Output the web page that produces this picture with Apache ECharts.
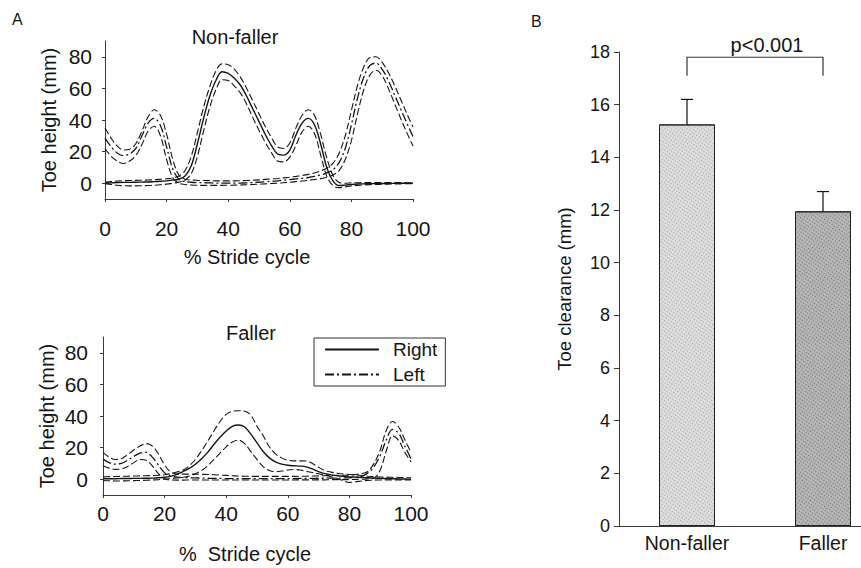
<!DOCTYPE html>
<html><head><meta charset="utf-8">
<script src="https://cdn.jsdelivr.net/npm/echarts@6/dist/echarts.min.js"></script>
<style>html,body{margin:0;padding:0;background:#fff}#c{width:861px;height:568px}</style>
</head><body><div id="c"></div>
<script>
// ---- data ----
const STRIDE = [0,2,4,6,8,10,12,14,16,18,20,22,24,26,28,30,32,34,36,38,40,42,44,46,48,50,52,54,56,58,60,62,64,66,68,70,72,74,76,78,80,82,84,86,88,90,92,94,96,98,100];

const NF_RIGHT_MEAN = [0,0.2,0.4,0.5,0.5,0.6,0.7,0.8,1.0,1.2,1.5,2,2.5,4.5,11,25,41,55,65,70.5,69.5,66.5,62,55,47,39,31,24,18.5,17.8,21,30.5,38,41,37,25,10,1.5,-1.5,-1.2,-0.8,-0.5,-0.4,-0.3,-0.2,-0.2,-0.1,-0.1,0,0,0];
const NF_RIGHT_UP   = [0.5,1.0,1.4,1.6,1.7,1.8,1.9,2.0,2.2,2.5,2.8,3.3,4.5,8,17,32,48,61,71,75.5,75,72,67,60,52,44,36,29,23,22,25.5,35,43,46.5,43,31,16,5,0.5,0,0.2,0.3,0.4,0.4,0.4,0.4,0.4,0.4,0.4,0.3,0.3];
const NF_RIGHT_LO   = [-0.3,-0.8,-1.3,-1.6,-1.7,-1.7,-1.6,-1.5,-1.3,-1.0,-0.6,0,0.7,2,6,17,33,48,59,65.5,65,61.5,57,50,41.5,33.5,26,19.5,14,13.5,16.5,24,32.5,36,31.5,18,4.5,-1.5,-2.8,-2.3,-1.8,-1.4,-1.1,-0.9,-0.8,-0.7,-0.6,-0.5,-0.4,-0.3,-0.3];
const NF_LEFT_MEAN  = [28.5,23,19,17.5,18.5,22,30,38,41,36.5,23,9,2.5,1,0.6,0.4,0.3,0.2,0.1,0,0,0,0.1,0.2,0.4,0.6,0.9,1.2,1.5,1.9,2.3,2.7,3.1,3.6,4.3,5.2,6.5,8.5,13,22,37,54,67,74.5,76,72,65,56,47,38,29.5];
const NF_LEFT_UP    = [35,28.5,23.5,21,21.5,25,33,42,46.5,43,31,15,5,2.5,2,1.8,1.7,1.6,1.5,1.5,1.5,1.5,1.6,1.7,1.9,2.1,2.4,2.7,3.0,3.4,3.8,4.3,4.9,5.6,6.5,7.8,9.5,12.5,19,30,46,62,73.5,79.5,80,76.5,70,62,53,44,35.5];
const NF_LEFT_LO    = [22,17,14,12.5,14,17.5,24.5,33,36,30,15,3.5,0,-0.8,-1.1,-1.3,-1.4,-1.4,-1.4,-1.4,-1.3,-1.2,-1.1,-1.0,-0.8,-0.6,-0.4,-0.2,0,0.3,0.6,1.0,1.4,1.8,2.3,2.9,3.8,5.2,8,15,27,44,59,68.5,71.5,68,60,50.5,41,32,23.5];

const F_RIGHT_MEAN = [0.3,0.3,0.3,0.4,0.4,0.5,0.5,0.6,0.7,0.9,1.2,1.8,3,4.8,6.8,9.5,13,17,22,26.5,30.5,33.5,34.3,33,28.5,23,17.5,13.5,11,9.5,8.8,8.5,8.3,7.8,6.5,4.8,3.5,2.7,2.2,1.8,1.5,1.3,1.1,0.9,0.7,0.5,0.4,0.3,0.2,0.1,0];
const F_RIGHT_UP   = [1.5,1.6,1.7,1.8,1.9,2.0,2.1,2.2,2.3,2.5,2.8,3.5,4.5,5.8,8.5,12.5,18,24,30.5,36.5,41,43,43.3,43,40.5,33.5,27.5,20.5,16,13.5,12,11.6,11.6,11.5,10,7.5,5.5,4.5,3.8,3.3,3.0,2.7,2.3,1.9,1.6,1.4,1.3,1.2,1.1,1.0,0.9];
const F_RIGHT_LO   = [-0.8,-1.0,-1.1,-1.1,-1.0,-0.9,-0.8,-0.7,-0.5,-0.3,0,0.4,0.8,1.2,2,3.5,5.5,8.5,12.5,16.5,20.5,23.5,24.7,22.5,17.5,12.5,8,5.5,4.8,5.2,5.8,6.1,5.8,5,4.2,3.4,2.6,1.6,0.4,-1,-2,-1.6,-1.1,-0.8,-0.6,-0.5,-0.4,-0.4,-0.4,-0.4,-0.4];
const F_LEFT_MEAN  = [12.7,10.5,9.5,10,12,14.5,16.5,17,14,9,4,2,1.3,1.0,0.9,0.8,0.7,0.6,0.5,0.5,0.4,0.4,0.4,0.4,0.4,0.4,0.4,0.4,0.4,0.4,0.4,0.4,0.5,0.5,0.5,0.6,0.6,0.7,0.7,0.8,0.9,1.1,1.8,4,8,15,25,31.5,29,21,13];
const F_LEFT_UP    = [17,14,12.5,13,15.5,18.5,21,22.5,21,16,9,4.5,3.3,3.2,3.2,3.2,3.1,3.0,2.8,2.6,2.4,2.2,2.0,1.9,1.8,1.8,1.8,1.8,1.8,1.8,1.8,1.8,1.9,1.9,2.0,2.1,2.2,2.3,2.4,2.5,2.6,3.0,3.5,5,10,18.5,31,36.5,33,25,17];
const F_LEFT_LO    = [8.5,7,6.2,6.5,8,10.5,12.5,12,8.5,3.5,0.3,-0.5,-0.6,-0.6,-0.5,-0.5,-0.5,-0.5,-0.5,-0.5,-0.5,-0.5,-0.5,-0.5,-0.5,-0.5,-0.5,-0.5,-0.5,-0.5,-0.5,-0.5,-0.4,-0.4,-0.4,-0.4,-0.4,-0.3,-0.3,-0.3,-0.2,-0.1,0,0.2,0.8,5.7,18,27.5,24.5,17,11];

const HEIGHT_TICKS = [0,20,40,60,80];
const GROUPS = ['Non-faller','Faller'];
const CLEARANCE = [15.25, 11.95];
const ERR_LOW = [14.3, 11.25];
const ERR_HIGH = [16.2, 12.7];
const BRACKET = [17.8, 17.1];
const P_TEXT = 'p<0.001';

// ---- chart ----
const FONT = 'Liberation Sans, Arial, Helvetica, sans-serif';
const INK = '#151515';
const AX = '#3a3a3a';
const chart = echarts.init(document.getElementById('c'), null, {renderer:'svg'});

function pairs(v){ return STRIDE.map((x,i)=>[x, v[i]]); }
function ln(name, gi, vals, type, width){
  return {type:'line', name, xAxisIndex:gi, yAxisIndex:gi, data:pairs(vals), smooth:0.35,
    symbol:'none', silent:true, lineStyle:{color:INK, width, type}, itemStyle:{color:INK}};
}
const DASH = [7,3];
const DASHDOT = [9,3,2,3];

function lineXAxis(gi, name, margin, pad){
  return {gridIndex:gi, type:'value', min:0, max:100, interval:20,
    axisLine:{show:true, onZero:false, lineStyle:{color:AX, width:1}},
    axisTick:{show:true, length:3, lineStyle:{color:AX}},
    axisLabel:{fontSize:21, margin, color:INK, fontFamily:FONT},
    splitLine:{show:false},
    name, nameLocation:'middle', nameGap: pad, 
    nameTextStyle:{fontSize:20, color:INK, fontFamily:FONT, padding:[0,24,0,0]}};
}
function lineYAxis(gi, margin){
  return {gridIndex:gi, type:'value', min:-10, max:90,
    axisLine:{show:true, onZero:false, lineStyle:{color:AX, width:1}},
    axisTick:{show:true, length:3, customValues:HEIGHT_TICKS, lineStyle:{color:AX}},
    axisLabel:{fontSize:21, margin, color:INK, fontFamily:FONT, customValues:HEIGHT_TICKS},
    splitLine:{show:false},
    name:'Toe height (mm)', nameLocation:'middle', nameGap:46,
    nameTextStyle:{fontSize:20, color:INK, fontFamily:FONT}};
}

const option = {
  animation:false,
  backgroundColor:'#fff',
  textStyle:{fontFamily:FONT},
  grid:[
    {left:105, top:41, width:308, height:158, outerBoundsMode:'none'},
    {left:103, top:337, width:308, height:158, outerBoundsMode:'none'},
    {left:619, top:52, width:272, height:474, outerBoundsMode:'none'}
  ],
  xAxis:[
    lineXAxis(0, '% Stride cycle', 19, 48),
    lineXAxis(1, '%  Stride cycle', 8, 49),
    {gridIndex:2, type:'category', data:GROUPS,
      axisLine:{lineStyle:{color:AX, width:1}},
      axisTick:{alignWithLabel:true, length:4, lineStyle:{color:AX}},
      axisLabel:{fontSize:19.5, margin:7, color:INK, fontFamily:FONT}}
  ],
  yAxis:[
    lineYAxis(0, 13),
    lineYAxis(1, 15),
    {gridIndex:2, type:'value', min:0, max:18, interval:2,
      axisLine:{show:true, lineStyle:{color:AX, width:1}},
      axisTick:{show:true, length:5, lineStyle:{color:AX}},
      axisLabel:{fontSize:18, margin:9, color:INK, fontFamily:FONT},
      splitLine:{show:false},
      name:'Toe clearance (mm)', nameLocation:'middle', nameGap:45,
      nameTextStyle:{fontSize:18.5, color:INK, fontFamily:FONT}}
  ],
  legend:{
    data:['Right','Left'], orient:'vertical', left:314, top:338,
    itemWidth:54, itemHeight:14, itemGap:6, selectedMode:false,
    itemStyle:{color:'rgba(0,0,0,0)', borderWidth:0, opacity:0},
    borderColor:'#333', borderWidth:1, padding:[2,8,2,10],
    textStyle:{fontSize:19, color:INK, fontFamily:FONT, padding:[0,0,0,9]}
  },
  graphic:[
    {type:'text', left:12, top:11, style:{text:'A', fontSize:16, fill:INK, fontFamily:FONT}},
    {type:'text', left:531, top:13, style:{text:'B', fontSize:16, fill:INK, fontFamily:FONT}},
    {type:'text', x:235, y:37, style:{text:'Non-faller', fontSize:20, fill:INK, fontFamily:FONT, textAlign:'center', textVerticalAlign:'middle'}},
    {type:'text', x:251, y:333, style:{text:'Faller', fontSize:20, fill:INK, fontFamily:FONT, textAlign:'center', textVerticalAlign:'middle'}}
  ],
  series:[
    ln('Right SD+', 0, NF_RIGHT_UP, DASH, 1.1),
    ln('Right SD-', 0, NF_RIGHT_LO, DASH, 1.1),
    ln('Left SD+', 0, NF_LEFT_UP, DASH, 1.1),
    ln('Left SD-', 0, NF_LEFT_LO, DASH, 1.1),
    ln('Right', 0, NF_RIGHT_MEAN, 'solid', 1.4),
    ln('Left', 0, NF_LEFT_MEAN, DASHDOT, 1.3),
    ln('Right SD+', 1, F_RIGHT_UP, DASH, 1.1),
    ln('Right SD-', 1, F_RIGHT_LO, DASH, 1.1),
    ln('Left SD+', 1, F_LEFT_UP, DASH, 1.1),
    ln('Left SD-', 1, F_LEFT_LO, DASH, 1.1),
    ln('Right', 1, F_RIGHT_MEAN, 'solid', 1.4),
    ln('Left', 1, F_LEFT_MEAN, DASHDOT, 1.3),
    {type:'bar', name:'Toe clearance', xAxisIndex:2, yAxisIndex:2, barWidth:56, silent:true,
      data:CLEARANCE.map((v,i)=>({value:v, itemStyle:{
        color: i===0 ? '#dcdcdc' : '#b4b4b4',
        decal:{symbol:'rect', symbolSize:1, color: i===0 ? 'rgba(90,90,90,0.45)' : 'rgba(50,50,50,0.5)',
               dashArrayX:[1,2], dashArrayY:[1,2], rotation:0.6}}})),
      itemStyle:{borderColor:'#222', borderWidth:1}},
    {type:'custom', name:'SD', xAxisIndex:2, yAxisIndex:2, silent:true,
      data:GROUPS.map((g,i)=>[i, ERR_LOW[i], ERR_HIGH[i]]),
      renderItem(params, api){
        const hi = api.coord([api.value(0), api.value(2)]);
        const lo = api.coord([api.value(0), api.value(1)]);
        const w = 6, st = {stroke:'#111', lineWidth:1.2};
        return {type:'group', children:[
          {type:'line', shape:{x1:hi[0], y1:hi[1], x2:lo[0], y2:lo[1]}, style:st},
          {type:'line', shape:{x1:hi[0]-w, y1:hi[1], x2:hi[0]+w, y2:hi[1]}, style:st},
          {type:'line', shape:{x1:lo[0]-w, y1:lo[1], x2:lo[0]+w, y2:lo[1]}, style:st}
        ]};
      }},
    {type:'custom', name:'sig', xAxisIndex:2, yAxisIndex:2, silent:true,
      data:[[0, 1, BRACKET[0], BRACKET[1]]],
      renderItem(params, api){
        const a = api.coord([api.value(0), api.value(2)]);
        const b = api.coord([api.value(1), api.value(2)]);
        const a2 = api.coord([api.value(0), api.value(3)]);
        const b2 = api.coord([api.value(1), api.value(3)]);
        return {type:'group', children:[
          {type:'polyline', shape:{points:[[a2[0],a2[1]],[a[0],a[1]],[b[0],b[1]],[b2[0],b2[1]]]}, style:{stroke:'#333', lineWidth:1.2, fill:null}},
          {type:'text', x:(a[0]+b[0])/2 + 12, y:a[1]-2, style:{text:P_TEXT, fontSize:20, fill:INK, fontFamily:FONT, textAlign:'center', textVerticalAlign:'bottom'}}
        ]};
      }}
  ]
};
chart.setOption(option);
</script></body></html>
